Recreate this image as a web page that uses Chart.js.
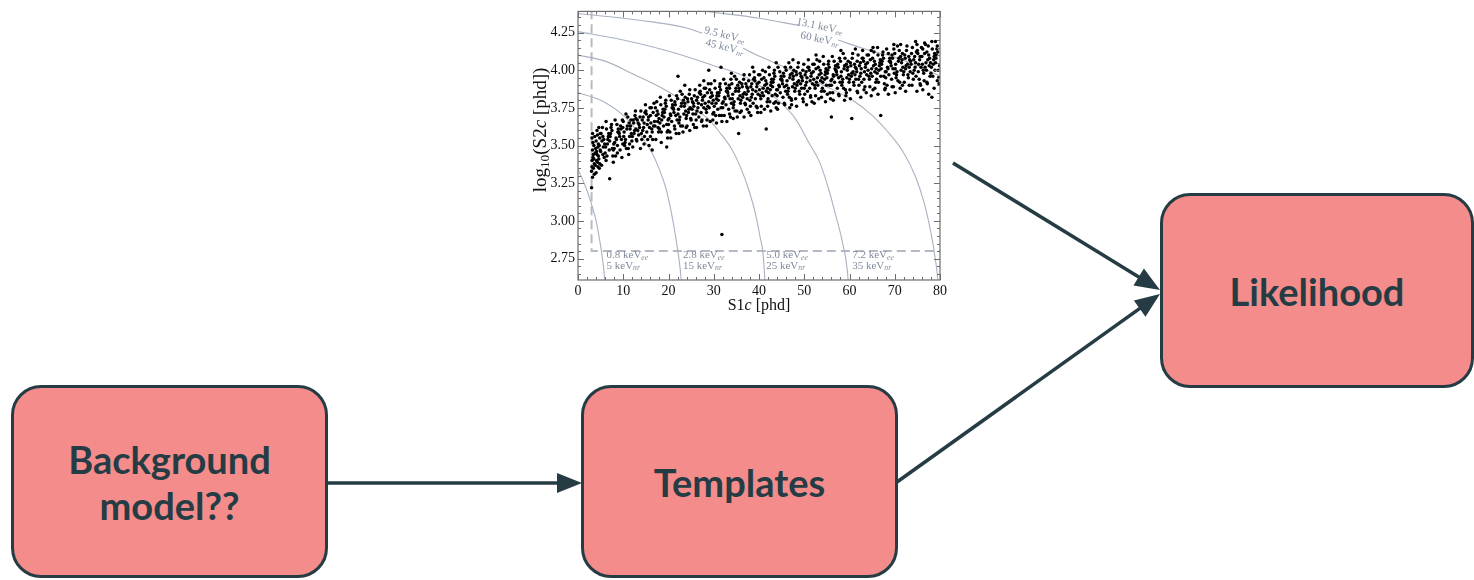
<!DOCTYPE html>
<html>
<head>
<meta charset="utf-8">
<script src="https://cdn.jsdelivr.net/npm/chart.js@4.4.1/dist/chart.umd.min.js"></script>
<style>
  body { margin: 0; width: 1474px; height: 580px; background: #fff; position: relative; overflow: hidden; font-family: Lato, "Open Sans", sans-serif; }
  #plot { position: absolute; left: 530px; top: 0; width: 420px; height: 320px; }
  #arrows { position: absolute; left: 0; top: 0; }
  .box { position: absolute; box-sizing: border-box; background: #f48c8b; border: 3px solid #263c44; border-radius: 30px;
         display: flex; align-items: center; justify-content: center; text-align: center;
         color: #263c44; font-weight: 700; font-size: 38px; line-height: 46px; }
</style>
</head>
<body>
<div id="plot"><canvas id="chart" width="420" height="320"></canvas></div>
<svg id="arrows" width="1474" height="580"></svg>
<div class="box" style="left:11px;top:385px;width:317px;height:193px">Background<br>model??</div>
<div class="box" style="left:581px;top:385px;width:317px;height:193px">Templates</div>
<div class="box" style="left:1160px;top:193px;width:314px;height:195px">Likelihood</div>

<script>
//------------------------------------------- Data -------------------------------------------//

// axis ranges and tick labels
const xMin = 0, xMax = 80;
const yMin = 2.608, yMax = 4.39;
const xTicks = [0, 10, 20, 30, 40, 50, 60, 70, 80];
const yTicks = [2.75, 3.00, 3.25, 3.50, 3.75, 4.00, 4.25];

// analysis thresholds (S1c in phd, log10 S2c)
const s1Threshold = 3;
const s2Threshold = 2.8;

// energy contour labels
const eeLabels = ['0.8', '2.8', '5.0', '7.2', '9.5', '13.1'];
const nrLabels = ['5', '15', '25', '35', '45', '60'];

// energy contours, [S1c, log10 S2c]; null marks where the label sits on the line
const contour5nr = [[0, 3.34], [1.5, 3.24], [3.0, 3.11], [4.0, 3.0], [4.8, 2.87], [5.4, 2.75], [5.9, 2.61], [6.0, 2.55]];
const contour15nr = [[0, 3.85], [5, 3.80], [10, 3.70], [13, 3.60], [16.2, 3.46], [18, 3.34], [19.4, 3.22], [20.6, 3.06], [21.5, 2.91], [22.3, 2.75], [22.8, 2.61], [22.9, 2.55]];
const contour25nr = [[0, 4.10], [6, 4.06], [12.5, 3.97], [18, 3.89], [21.4, 3.83], [25, 3.75], [28.7, 3.68], [31.5, 3.58], [33.9, 3.48], [36, 3.35], [37.8, 3.20], [39.2, 3.05], [40.2, 2.90], [40.9, 2.78], [41.3, 2.61], [41.4, 2.55]];
const contour35nr = [[0, 4.256], [10, 4.20], [21.4, 4.114], [30, 4.03], [36, 3.97], [41, 3.88], [45, 3.78], [48, 3.68], [51, 3.52], [53.4, 3.39], [55.5, 3.20], [57.1, 3.02], [58.5, 2.85], [59.7, 2.61], [59.8, 2.55]];
const contour45nr = [[0, 4.376], [14, 4.33], [24, 4.28], [27.5, 4.245], [32, null], [36.5, 4.145], [40, 4.094], [45, 4.03], [50, 3.96], [55, 3.89], [60.7, 3.80], [65, 3.70], [68.5, 3.59], [71.8, 3.46], [74.5, 3.30], [76.5, 3.12], [78, 2.92], [79, 2.74], [79.5, 2.61], [79.6, 2.55]];
const contour60nr = [[26, 4.40], [28.4, 4.39], [40, 4.345], [49, 4.295], [53, null], [57.5, 4.20], [63.5, 4.14], [69.6, 4.09], [75, 4.03], [80, 3.96]];

// selected events, [S1c, log10 S2c]
const events = [
  [3.1,3.40],[3.2,3.47],[3.0,3.33],[3.3,3.52],[3.1,3.36],[3.4,3.44],[3.2,3.29],[3.5,3.50],[3.6,3.38],[3.3,3.42],
  [3.7,3.56],[3.8,3.45],[3.1,3.55],[3.4,3.35],[3.9,3.48],[3.6,3.31],[3.2,3.58],[3.5,3.41],[3.0,3.22],[3.8,3.37],
  [4.1,3.46],[4.3,3.39],[4.0,3.53],[4.5,3.43],[4.2,3.60],[4.7,3.50],[4.4,3.36],[4.8,3.55],[4.6,3.41],[4.9,3.47],
  [4.0,3.32],[4.3,3.57],[4.6,3.62],[4.2,3.44],[4.8,3.38],[4.5,3.51],[4.1,3.40],[4.9,3.58],[4.4,3.49],[4.7,3.35],
  [5.3,3.53],[5.8,3.42],[5.1,3.58],[5.6,3.49],[5.4,3.62],[5.0,3.46],[5.9,3.51],[5.5,3.56],[5.2,3.37],[5.7,3.54],
  [6.1,3.49],[6.3,3.61],[6.4,3.43],[6.6,3.54],[6.8,3.58],[6.9,3.47],[6.2,3.66],[6.5,3.51],[6.7,3.56],[6.0,3.45],
  [7.5,3.60],[7.0,3.53],[7.7,3.43],[7.2,3.58],[7.9,3.51],[7.4,3.64],[7.6,3.48],[7.1,3.56],[7.8,3.39],[7.3,3.62],
  [8.3,3.43],[8.8,3.59],[8.1,3.52],[8.6,3.64],[8.4,3.55],[8.0,3.48],[8.9,3.61],[8.5,3.54],[8.2,3.67],[8.7,3.50],
  [9.1,3.58],[9.3,3.47],[9.4,3.63],[9.6,3.54],[9.8,3.67],[9.9,3.51],[9.2,3.56],[9.5,3.61],[9.7,3.42],[9.0,3.59],
  [10.5,3.54],[10.0,3.66],[10.7,3.48],[10.2,3.59],[10.9,3.63],[10.4,3.52],[10.6,3.71],[10.1,3.56],[10.8,3.61],[10.3,3.50],
  [11.3,3.65],[11.8,3.58],[11.1,3.48],[11.6,3.63],[11.4,3.56],[11.0,3.69],[11.9,3.53],[11.5,3.61],[11.2,3.44],[11.7,3.67],
  [12.1,3.49],[12.3,3.65],[12.4,3.58],[12.6,3.70],[12.8,3.61],[12.9,3.54],[12.2,3.67],[12.5,3.60],[12.7,3.73],[12.0,3.56],
  [13.5,3.64],[13.0,3.53],[13.7,3.69],[13.2,3.60],[13.9,3.73],[13.4,3.57],[13.6,3.62],[13.1,3.67],[13.8,3.48],[13.3,3.65],
  [14.3,3.60],[14.8,3.72],[14.1,3.54],[14.6,3.65],[14.4,3.69],[14.0,3.58],[14.9,3.77],[14.5,3.62],[14.2,3.67],[14.7,3.56],
  [15.1,3.71],[15.3,3.64],[15.4,3.54],[15.6,3.69],[15.8,3.62],[15.9,3.75],[15.2,3.59],[15.5,3.67],[15.7,3.50],[15.0,3.73],
  [16.5,3.54],[16.0,3.70],[16.7,3.63],[16.2,3.75],[16.9,3.66],[16.4,3.59],[16.6,3.72],[16.1,3.65],[16.8,3.78],[16.3,3.61],
  [17.3,3.70],[17.8,3.59],[17.1,3.75],[17.6,3.66],[17.4,3.79],[17.0,3.63],[17.9,3.68],[17.5,3.73],[17.2,3.54],[17.7,3.71],
  [18.1,3.65],[18.3,3.77],[18.4,3.59],[18.6,3.70],[18.8,3.74],[18.9,3.63],[18.2,3.82],[18.5,3.67],[18.7,3.72],[18.0,3.61],
  [19.5,3.76],[19.0,3.69],[19.7,3.59],[19.2,3.74],[19.9,3.67],[19.4,3.80],[19.6,3.64],[19.1,3.72],[19.8,3.55],[19.3,3.78],
  [20.3,3.59],[20.8,3.75],[20.1,3.68],[20.6,3.80],[20.4,3.71],[20.0,3.64],[20.9,3.77],[20.5,3.70],[20.2,3.83],[20.7,3.66],
  [21.1,3.74],[21.3,3.63],[21.4,3.79],[21.6,3.70],[21.8,3.83],[21.9,3.67],[21.2,3.72],[21.5,3.77],[21.7,3.58],[21.0,3.75],
  [22.5,3.69],[22.0,3.81],[22.7,3.63],[22.2,3.74],[22.9,3.78],[22.4,3.67],[22.6,3.86],[22.1,3.71],[22.8,3.76],[22.3,3.65],
  [23.3,3.80],[23.8,3.73],[23.1,3.63],[23.6,3.78],[23.4,3.71],[23.0,3.84],[23.9,3.68],[23.5,3.76],[23.2,3.59],[23.7,3.82],
  [24.1,3.63],[24.3,3.79],[24.4,3.72],[24.6,3.84],[24.8,3.75],[24.9,3.68],[24.2,3.81],[24.5,3.74],[24.7,3.87],[24.0,3.70],
  [25.5,3.78],[25.0,3.67],[25.7,3.83],[25.2,3.74],[25.9,3.87],[25.4,3.71],[25.6,3.76],[25.1,3.81],[25.8,3.62],[25.3,3.79],
  [26.3,3.73],[26.8,3.85],[26.1,3.67],[26.6,3.78],[26.4,3.82],[26.0,3.71],[26.9,3.90],[26.5,3.75],[26.2,3.80],[26.7,3.69],
  [27.1,3.84],[27.3,3.77],[27.4,3.67],[27.6,3.82],[27.8,3.75],[27.9,3.88],[27.2,3.72],[27.5,3.80],[27.7,3.63],[27.0,3.86],
  [28.5,3.67],[28.0,3.83],[28.7,3.76],[28.2,3.88],[28.9,3.79],[28.4,3.72],[28.6,3.85],[28.1,3.78],[28.8,3.91],[28.3,3.74],
  [29.3,3.82],[29.8,3.71],[29.1,3.87],[29.6,3.78],[29.4,3.91],[29.0,3.75],[29.9,3.80],[29.5,3.85],[29.2,3.66],[29.7,3.83],
  [30.1,3.76],[30.3,3.88],[30.4,3.70],[30.6,3.81],[30.8,3.85],[30.9,3.74],[30.2,3.93],[30.5,3.78],[30.7,3.83],[30.0,3.72],
  [31.5,3.87],[31.0,3.80],[31.7,3.70],[31.2,3.85],[31.9,3.78],[31.4,3.91],[31.6,3.75],[31.1,3.83],[31.8,3.66],[31.3,3.89],
  [32.3,3.70],[32.8,3.86],[32.1,3.79],[32.6,3.91],[32.4,3.82],[32.0,3.75],[32.9,3.88],[32.5,3.81],[32.2,3.94],[32.7,3.77],
  [33.1,3.85],[33.3,3.74],[33.4,3.90],[33.6,3.81],[33.8,3.94],[33.9,3.78],[33.2,3.83],[33.5,3.88],[33.7,3.69],[33.0,3.86],
  [34.5,3.79],[34.0,3.91],[34.7,3.73],[34.2,3.84],[34.9,3.88],[34.4,3.77],[34.6,3.96],[34.1,3.81],[34.8,3.86],[34.3,3.75],
  [35.3,3.90],[35.8,3.83],[35.1,3.73],[35.6,3.88],[35.4,3.81],[35.0,3.94],[35.9,3.78],[35.5,3.86],[35.2,3.69],[35.7,3.92],
  [36.1,3.73],[36.3,3.89],[36.4,3.82],[36.6,3.94],[36.8,3.85],[36.9,3.78],[36.2,3.91],[36.5,3.84],[36.7,3.97],[36.0,3.80],
  [37.5,3.88],[37.0,3.77],[37.7,3.93],[37.2,3.84],[37.9,3.97],[37.4,3.81],[37.6,3.86],[37.1,3.91],[37.8,3.72],[37.3,3.89],
  [38.3,3.82],[38.8,3.94],[38.1,3.76],[38.6,3.87],[38.4,3.91],[38.0,3.80],[38.9,3.99],[38.5,3.84],[38.2,3.89],[38.7,3.78],
  [39.1,3.93],[39.3,3.86],[39.4,3.76],[39.6,3.91],[39.8,3.84],[39.9,3.97],[39.2,3.81],[39.5,3.89],[39.7,3.72],[39.0,3.95],
  [40.5,3.76],[40.0,3.92],[40.7,3.85],[40.2,3.97],[40.9,3.88],[40.4,3.81],[40.6,3.94],[40.1,3.87],[40.8,4.00],[40.3,3.83],
  [41.3,3.90],[41.8,3.79],[41.1,3.95],[41.6,3.86],[41.4,3.99],[41.0,3.83],[41.9,3.88],[41.5,3.93],[41.2,3.74],[41.7,3.91],
  [42.1,3.85],[42.3,3.97],[42.4,3.79],[42.6,3.90],[42.8,3.94],[42.9,3.83],[42.2,4.02],[42.5,3.87],[42.7,3.92],[42.0,3.81],
  [43.5,3.96],[43.0,3.89],[43.7,3.79],[43.2,3.94],[43.9,3.87],[43.4,4.00],[43.6,3.84],[43.1,3.92],[43.8,3.75],[43.3,3.98],
  [44.3,3.78],[44.8,3.94],[44.1,3.87],[44.6,3.99],[44.4,3.90],[44.0,3.83],[44.9,3.96],[44.5,3.89],[44.2,4.02],[44.7,3.85],
  [45.1,3.93],[45.3,3.82],[45.4,3.98],[45.6,3.89],[45.8,4.02],[45.9,3.86],[45.2,3.91],[45.5,3.96],[45.7,3.77],[45.0,3.94],
  [46.5,3.88],[46.0,4.00],[46.7,3.82],[46.2,3.93],[46.9,3.97],[46.4,3.86],[46.6,4.05],[46.1,3.90],[46.8,3.95],[46.3,3.84],
  [47.3,3.98],[47.8,3.91],[47.1,3.81],[47.6,3.96],[47.4,3.89],[47.0,4.02],[47.9,3.86],[47.5,3.94],[47.2,3.77],[47.7,4.00],
  [48.1,3.81],[48.3,3.97],[48.4,3.90],[48.6,4.02],[48.8,3.93],[48.9,3.86],[48.2,3.99],[48.5,3.92],[48.7,4.05],[48.0,3.88],
  [49.5,3.95],[49.0,3.84],[49.7,4.00],[49.2,3.91],[49.9,4.04],[49.4,3.88],[49.6,3.93],[49.1,3.98],[49.8,3.79],[49.3,3.96],
  [50.3,3.90],[50.8,4.02],[50.1,3.84],[50.6,3.95],[50.4,3.99],[50.0,3.88],[50.9,4.07],[50.5,3.92],[50.2,3.97],[50.7,3.86],
  [51.1,4.00],[51.3,3.93],[51.4,3.83],[51.6,3.98],[51.8,3.91],[51.9,4.04],[51.2,3.88],[51.5,3.96],[51.7,3.79],[51.0,4.02],
  [52.5,3.83],[52.0,3.99],[52.7,3.92],[52.2,4.04],[52.9,3.95],[52.4,3.88],[52.6,4.01],[52.1,3.94],[52.8,4.07],[52.3,3.90],
  [53.3,3.97],[53.8,3.86],[53.1,4.02],[53.6,3.93],[53.4,4.06],[53.0,3.90],[53.9,3.95],[53.5,4.00],[53.2,3.81],[53.7,3.98],
  [54.1,3.92],[54.3,4.04],[54.4,3.86],[54.6,3.97],[54.8,4.01],[54.9,3.90],[54.2,4.09],[54.5,3.94],[54.7,3.99],[54.0,3.88],
  [55.5,4.02],[55.0,3.95],[55.7,3.85],[55.2,4.00],[55.9,3.93],[55.4,4.06],[55.6,3.90],[55.1,3.98],[55.8,3.81],[55.3,4.04],
  [56.3,3.85],[56.8,4.01],[56.1,3.94],[56.6,4.06],[56.4,3.97],[56.0,3.90],[56.9,4.03],[56.5,3.96],[56.2,4.09],[56.7,3.92],
  [57.1,3.99],[57.3,3.88],[57.4,4.04],[57.6,3.95],[57.8,4.08],[57.9,3.92],[57.2,3.97],[57.5,4.02],[57.7,3.83],[57.0,4.00],
  [58.5,3.94],[58.0,4.06],[58.7,3.88],[58.2,3.99],[58.9,4.03],[58.4,3.92],[58.6,4.11],[58.1,3.96],[58.8,4.01],[58.3,3.90],
  [59.3,4.04],[59.8,3.97],[59.1,3.87],[59.6,4.02],[59.4,3.95],[59.0,4.08],[59.9,3.92],[59.5,4.00],[59.2,3.83],[59.7,4.06],
  [60.1,3.87],[60.3,4.03],[60.4,3.96],[60.6,4.08],[60.8,3.99],[60.9,3.92],[60.2,4.05],[60.5,3.98],[60.7,4.11],[60.0,3.94],
  [61.5,4.01],[61.0,3.90],[61.7,4.06],[61.2,3.97],[61.9,4.10],[61.4,3.94],[61.6,3.99],[61.1,4.04],[61.8,3.85],[61.3,4.02],
  [62.3,3.96],[62.8,4.08],[62.1,3.90],[62.6,4.01],[62.4,4.05],[62.0,3.94],[62.9,4.13],[62.5,3.98],[62.2,4.03],[62.7,3.92],
  [63.1,4.06],[63.3,3.99],[63.4,3.89],[63.6,4.04],[63.8,3.97],[63.9,4.10],[63.2,3.94],[63.5,4.02],[63.7,3.85],[63.0,4.08],
  [64.5,3.89],[64.0,4.05],[64.7,3.98],[64.2,4.10],[64.9,4.01],[64.4,3.94],[64.6,4.07],[64.1,4.00],[64.8,4.13],[64.3,3.96],
  [65.3,4.03],[65.8,3.92],[65.1,4.08],[65.6,3.99],[65.4,4.12],[65.0,3.96],[65.9,4.01],[65.5,4.06],[65.2,3.87],[65.7,4.04],
  [66.1,3.98],[66.3,4.10],[66.4,3.92],[66.6,4.03],[66.8,4.07],[66.9,3.96],[66.2,4.15],[66.5,4.00],[66.7,4.05],[66.0,3.94],
  [67.5,4.08],[67.0,4.01],[67.7,3.91],[67.2,4.06],[67.9,3.99],[67.4,4.12],[67.6,3.96],[67.1,4.04],[67.8,3.87],[67.3,4.10],
  [68.3,3.90],[68.8,4.06],[68.1,3.99],[68.6,4.11],[68.4,4.02],[68.0,3.95],[68.9,4.08],[68.5,4.01],[68.2,4.14],[68.7,3.97],
  [69.1,4.05],[69.3,3.94],[69.4,4.10],[69.6,4.01],[69.8,4.14],[69.9,3.98],[69.2,4.03],[69.5,4.08],[69.7,3.89],[69.0,4.06],
  [70.5,3.99],[70.0,4.11],[70.7,3.93],[70.2,4.04],[70.9,4.08],[70.4,3.97],[70.6,4.16],[70.1,4.01],[70.8,4.06],[70.3,3.95],
  [71.3,4.09],[71.8,4.02],[71.1,3.92],[71.6,4.07],[71.4,4.00],[71.0,4.13],[71.9,3.97],[71.5,4.05],[71.2,3.88],[71.7,4.11],
  [72.1,3.92],[72.3,4.08],[72.4,4.01],[72.6,4.13],[72.8,4.04],[72.9,3.97],[72.2,4.10],[72.5,4.03],[72.7,4.16],[72.0,3.99],
  [73.5,4.06],[73.0,3.95],[73.7,4.11],[73.2,4.02],[73.9,4.15],[73.4,3.99],[73.6,4.04],[73.1,4.09],[73.8,3.90],[73.3,4.07],
  [74.3,4.00],[74.8,4.12],[74.1,3.94],[74.6,4.05],[74.4,4.09],[74.0,3.98],[74.9,4.17],[74.5,4.02],[74.2,4.07],[74.7,3.96],
  [75.1,4.11],[75.3,4.04],[75.4,3.94],[75.6,4.09],[75.8,4.02],[75.9,4.15],[75.2,3.99],[75.5,4.07],[75.7,3.90],[75.0,4.13],
  [76.5,3.93],[76.0,4.09],[76.7,4.02],[76.2,4.14],[76.9,4.05],[76.4,3.98],[76.6,4.11],[76.1,4.04],[76.8,4.17],[76.3,4.00],
  [77.3,4.07],[77.8,3.96],[77.1,4.12],[77.6,4.03],[77.4,4.16],[77.0,4.00],[77.9,4.05],[77.5,4.10],[77.2,3.91],[77.7,4.08],
  [78.1,4.02],[78.3,4.14],[78.4,3.96],[78.6,4.07],[78.8,4.11],[78.9,4.00],[78.2,4.19],[78.5,4.04],[78.7,4.09],[78.0,3.98],
  [79.5,4.12],[79.0,4.05],[79.7,3.95],[79.2,4.10],[79.9,4.03],[79.4,4.16],[79.6,4.00],[79.1,4.08],[79.8,3.91],[79.3,4.14],
  // lower tail of the band
  [20.5,3.55],[22.3,3.58],[24.7,3.60],[26.2,3.62],[28.4,3.63],[30.6,3.65],[32.9,3.66],[34.3,3.68],[36.7,3.69],[38.2,3.70],
  [40.4,3.72],[42.6,3.73],[44.1,3.74],[46.8,3.75],[48.3,3.76],[50.5,3.77],[52.2,3.78],[54.7,3.79],[56.4,3.80],[58.9,3.80],
  [60.2,3.81],[62.5,3.82],[64.8,3.83],[66.3,3.84],[68.6,3.84],[70.1,3.85],[72.4,3.86],[74.9,3.86],[76.2,3.87],[78.7,3.88],
  [21.4,3.61],[23.9,3.62],[25.5,3.64],[27.3,3.66],[29.8,3.67],[31.2,3.70],[33.5,3.71],[35.8,3.72],[37.4,3.74],[39.6,3.75],
  [41.9,3.76],[43.3,3.78],[45.6,3.78],[47.2,3.80],[49.7,3.81],[51.4,3.82],[53.8,3.82],[55.1,3.84],[57.6,3.84],[59.3,3.85],
  [61.7,3.86],[63.2,3.87],[65.6,3.88],[67.9,3.88],[69.4,3.89],[71.7,3.90],[73.2,3.90],[75.6,3.91],[77.1,3.92],[79.4,3.93],
  // upper tail and extra low-S1 events
  [23.6,3.90],[27.8,3.93],[33.9,3.98],[38.6,4.02],[43.8,4.05],[47.5,4.07],[52.6,4.10],[58.1,4.13],[61.3,4.14],[65.2,4.15],
  [71.3,4.17],[74.6,4.19],[79.0,4.19],[76.6,4.18],
  [5.5,3.44],[6.2,3.40],[7.8,3.47],[8.7,3.45],[9.9,3.62],[11.4,3.51],[12.8,3.68],[14.6,3.51],[16.0,3.56],[17.7,3.62],
  [18.4,3.52],[19.9,3.60],
  // stragglers away from the band
  [7.0,3.28],[31.8,2.91],[35.5,3.58],[41.6,3.61],[56.0,3.69],[60.5,3.68],[66.9,3.70],[77.5,3.84],[78.2,3.82],
  [22.1,3.96],[28.9,4.00],[31.6,4.02],[19.6,3.49],[16.4,3.47],[69.8,4.17]
];

//------------------------------------------- Styles -------------------------------------------//

const serif = '"Liberation Serif", "DejaVu Serif", serif';
const frameColor = '#6e6e6e';
const contourColor = '#a9b2c1';
const labelColor = '#7f8a9c';
const inkColor = '#263c44';

// where each contour label pair sits (data coords) and how it is turned
const labelPlacement = [
  { x: 6.3,  ee: 2.772, nr: 2.703, align: 'left', rot: 0 },
  { x: 23.2, ee: 2.772, nr: 2.703, align: 'left', rot: 0 },
  { x: 41.6, ee: 2.772, nr: 2.703, align: 'left', rot: 0 },
  { x: 60.6, ee: 2.772, nr: 2.703, align: 'left', rot: 0 },
  { x: 32.4, ee: 4.232, nr: 4.152, align: 'center', rot: 14 },
  { x: 53.4, ee: 4.290, nr: 4.205, align: 'center', rot: 12 }
];

// flow-chart connectors: x1, y1, x2, y2 in page pixels
const arrowLinks = [
  [327, 483, 582, 483],
  [953, 163, 1160, 290],
  [897, 482, 1160, 294]
];

//------------------------------------------- Helpers -------------------------------------------//

const toXY = arr => arr.map(p => ({ x: p[0], y: p[1] }));

function richWidth(ctx, parts, size) {
    let w = 0;
    parts.forEach(p => {
        ctx.font = (p.italic ? 'italic ' : '') + (p.sub ? size * 0.7 : size) + 'px ' + serif;
        w += ctx.measureText(p.t).width;
    });
    return w;
}

// draws text runs with subscripts / italics, starting at x on baseline y
function drawRich(ctx, parts, x, y, size) {
    parts.forEach(p => {
        ctx.font = (p.italic ? 'italic ' : '') + (p.sub ? size * 0.7 : size) + 'px ' + serif;
        ctx.fillText(p.t, x, p.sub ? y + size * 0.25 : y);
        x += ctx.measureText(p.t).width;
    });
}

const framePlugin = {
    id: 'frame',
    afterDatasetsDraw(chart) {
        const { ctx, chartArea: a, scales: { x, y } } = chart;
        ctx.save();

        // energy labels
        ctx.fillStyle = labelColor;
        ctx.textBaseline = 'middle';
        labelPlacement.forEach((pl, i) => {
            const rows = [
                { v: pl.ee, parts: [{ t: eeLabels[i] + ' keV' }, { t: 'ee', sub: true, italic: true }] },
                { v: pl.nr, parts: [{ t: nrLabels[i] + ' keV' }, { t: 'nr', sub: true, italic: true }] }
            ];
            rows.forEach(r => {
                const px = x.getPixelForValue(pl.x), py = y.getPixelForValue(r.v);
                const w = richWidth(ctx, r.parts, 11);
                ctx.save();
                ctx.translate(px, py);
                ctx.rotate(pl.rot * Math.PI / 180);
                drawRich(ctx, r.parts, pl.align === 'center' ? -w / 2 : 0, 0, 11);
                ctx.restore();
            });
        });

        // frame with inward ticks on all four sides
        ctx.strokeStyle = frameColor;
        ctx.lineWidth = 1.2;
        ctx.strokeRect(a.left, a.top, a.right - a.left, a.bottom - a.top);
        ctx.beginPath();
        for (let v = xMin; v <= xMax; v += 2) {
            const px = Math.round(x.getPixelForValue(v)) + 0.5;
            const len = v % 10 === 0 ? 6 : 3;
            ctx.moveTo(px, a.bottom); ctx.lineTo(px, a.bottom - len);
            ctx.moveTo(px, a.top); ctx.lineTo(px, a.top + len);
        }
        for (let i = Math.ceil(yMin / 0.05); i <= Math.floor(yMax / 0.05); i++) {
            const py = Math.round(y.getPixelForValue(i * 0.05)) + 0.5;
            const len = i % 5 === 0 ? 6 : 3;
            ctx.moveTo(a.left, py); ctx.lineTo(a.left + len, py);
            ctx.moveTo(a.right, py); ctx.lineTo(a.right - len, py);
        }
        ctx.lineWidth = 1;
        ctx.stroke();

        // axis titles
        ctx.fillStyle = '#111';
        ctx.textBaseline = 'middle';
        const xt = [{ t: 'S1' }, { t: 'c', italic: true }, { t: ' [phd]' }];
        const xw = richWidth(ctx, xt, 16);
        drawRich(ctx, xt, (a.left + a.right) / 2 - xw / 2, 306, 16);

        const yt = [{ t: 'log' }, { t: '10', sub: true }, { t: '(S2' }, { t: 'c', italic: true }, { t: ' [phd])' }];
        const yw = richWidth(ctx, yt, 19);
        ctx.translate(11, 130);
        ctx.rotate(-Math.PI / 2);
        drawRich(ctx, yt, -yw / 2, 0, 19);
        ctx.restore();
    }
};

//------------------------------------------- Chart -------------------------------------------//

const contours = [contour5nr, contour15nr, contour25nr, contour35nr, contour45nr, contour60nr];

const chart = new Chart(document.getElementById('chart'), {
    type: 'scatter',
    data: {
        datasets: [
            {
                label: 'events',
                data: toXY(events),
                pointRadius: 1.75,
                pointBackgroundColor: '#000',
                pointBorderWidth: 0
            },
            ...contours.map(c => ({
                label: 'contour',
                data: toXY(c),
                showLine: true,
                borderColor: contourColor,
                borderWidth: 1.1,
                pointRadius: 0,
                cubicInterpolationMode: 'monotone',
                spanGaps: false
            })),
            {
                label: 'thresholds',
                data: [{ x: s1Threshold, y: yMax + 0.1 }, { x: s1Threshold, y: s2Threshold }, { x: xMax, y: s2Threshold }],
                showLine: true,
                borderColor: '#b3bac6',
                borderWidth: 2,
                borderDash: [9, 5],
                pointRadius: 0
            }
        ]
    },
    options: {
        responsive: false,
        animation: false,
        events: [],
        layout: { padding: { top: 8, right: 10, left: 0, bottom: 0 } },
        plugins: { legend: { display: false }, tooltip: { enabled: false } },
        scales: {
            x: {
                type: 'linear', min: xMin, max: xMax,
                afterBuildTicks: s => { s.ticks = xTicks.map(v => ({ value: v })); },
                afterFit: s => { s.height = 40; },
                grid: { display: false, drawTicks: false },
                border: { display: false },
                ticks: { autoSkip: false, maxRotation: 0, padding: 3, color: '#111', font: { family: serif, size: 14 } }
            },
            y: {
                type: 'linear', min: yMin, max: yMax,
                afterBuildTicks: s => { s.ticks = yTicks.map(v => ({ value: v })); },
                afterFit: s => { s.width = 48; },
                grid: { display: false, drawTicks: false },
                border: { display: false },
                ticks: { autoSkip: false, padding: 3, color: '#111', font: { family: serif, size: 14 }, callback: v => v.toFixed(2) }
            }
        }
    },
    plugins: [framePlugin]
});

//------------------------------------------- Arrows -------------------------------------------//

const svgNS = 'http://www.w3.org/2000/svg';
const svg = document.getElementById('arrows');
arrowLinks.forEach(([x1, y1, x2, y2]) => {
    const ang = Math.atan2(y2 - y1, x2 - x1);
    const len = 25, half = 10;
    const c = Math.cos(ang), s = Math.sin(ang);
    const bx = x2 - len * c, by = y2 - len * s;

    const line = document.createElementNS(svgNS, 'line');
    line.setAttribute('x1', x1); line.setAttribute('y1', y1);
    line.setAttribute('x2', bx + 2 * c); line.setAttribute('y2', by + 2 * s);
    line.setAttribute('stroke', inkColor);
    line.setAttribute('stroke-width', 3.5);
    svg.appendChild(line);

    const head = document.createElementNS(svgNS, 'polygon');
    head.setAttribute('points', [
        [x2, y2], [bx - half * s, by + half * c], [bx + half * s, by - half * c]
    ].map(p => p.join(',')).join(' '));
    head.setAttribute('fill', inkColor);
    svg.appendChild(head);
});
</script>
</body>
</html>
